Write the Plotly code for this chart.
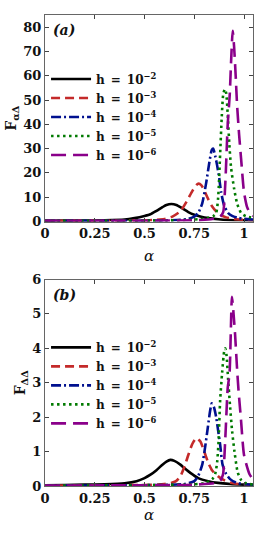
import plotly.graph_objects as go
from plotly.subplots import make_subplots

SP = "\u2002"
labels = [f"h{SP}={SP}10<sup>−2</sup>", f"h{SP}={SP}10<sup>−3</sup>", f"h{SP}={SP}10<sup>−4</sup>",
          f"h{SP}={SP}10<sup>−5</sup>", f"h{SP}={SP}10<sup>−6</sup>"]
colors = ["#000000", "#c42a2a", "#00108f", "#007a00", "#8a008a"]
dashes = ["solid", "9px,5px", "10px,3px,2px,3px", "2.5px,3.5px", "15px,7px"]

# ---- panel (a): F_{alpha Delta}
a_x1 = [0, 0.1, 0.2, 0.3, 0.4, 0.45, 0.5, 0.53, 0.56, 0.59, 0.61, 0.635, 0.66, 0.69, 0.72, 0.75, 0.78, 0.82, 0.87, 0.92, 0.97, 1.05]
a_y1 = [0.3, 0.35, 0.4, 0.5, 0.8, 1.4, 2.3, 3.0, 4.4, 5.9, 6.8, 7.2, 6.8, 5.4, 3.9, 2.8, 2.1, 1.4, 0.9, 0.6, 0.5, 0.4]
a_x2 = [0, 0.2, 0.4, 0.5, 0.55, 0.6, 0.64, 0.68, 0.71, 0.74, 0.76, 0.772, 0.785, 0.80, 0.82, 0.84, 0.86, 0.88, 0.91, 0.95, 1.0, 1.05]
a_y2 = [0.3, 0.3, 0.35, 0.45, 0.6, 1.0, 2.0, 4.2, 8.0, 12.5, 15.0, 15.6, 15.0, 12.8, 9.2, 6.2, 4.2, 2.8, 1.7, 1.0, 0.7, 0.5]
a_x3 = [0, 0.3, 0.5, 0.6, 0.68, 0.72, 0.75, 0.77, 0.79, 0.81, 0.825, 0.838, 0.845, 0.855, 0.865, 0.875, 0.885, 0.9, 0.92, 0.94, 0.97, 1.0, 1.05]
a_y3 = [0.3, 0.3, 0.35, 0.45, 0.7, 1.1, 2.0, 3.5, 7.5, 16, 24, 29.5, 30, 27, 23, 18, 12, 6.6, 3.5, 2.3, 1.5, 1.1, 0.8]
a_x4 = [0, 0.3, 0.6, 0.7, 0.78, 0.82, 0.845, 0.86, 0.87, 0.88, 0.888, 0.895, 0.903, 0.91, 0.918, 0.926, 0.935, 0.95, 0.965, 0.985, 1.01, 1.05]
a_y4 = [0.3, 0.3, 0.4, 0.6, 1.0, 1.5, 2.2, 3.5, 10, 28, 43, 52, 54.5, 53, 44, 32, 22, 13.6, 7.5, 3.5, 2.2, 1.5]
a_x5 = [0, 0.3, 0.6, 0.75, 0.82, 0.86, 0.88, 0.895, 0.906, 0.918, 0.928, 0.935, 0.943, 0.95, 0.958, 0.965, 0.975, 0.985, 1.0, 1.015, 1.03, 1.05]
a_y5 = [0.3, 0.3, 0.35, 0.5, 0.8, 1.3, 2.0, 3.8, 16, 40, 52, 66, 78.5, 72, 60, 48, 36, 26, 12, 6, 3.5, 2.2]

# ---- panel (b): F_{Delta Delta}
b_x1 = [0, 0.1, 0.2, 0.3, 0.4, 0.46, 0.5, 0.53, 0.56, 0.59, 0.61, 0.63, 0.65, 0.68, 0.70, 0.73, 0.77, 0.82, 0.87, 0.93, 1.0, 1.05]
b_y1 = [0.02, 0.03, 0.04, 0.05, 0.08, 0.14, 0.23, 0.33, 0.46, 0.62, 0.71, 0.76, 0.73, 0.62, 0.52, 0.38, 0.23, 0.14, 0.09, 0.06, 0.04, 0.03]
b_x2 = [0, 0.3, 0.5, 0.6, 0.64, 0.66, 0.68, 0.70, 0.72, 0.74, 0.76, 0.78, 0.80, 0.82, 0.84, 0.87, 0.9, 0.93, 0.97, 1.05]
b_y2 = [0.01, 0.02, 0.03, 0.06, 0.1, 0.15, 0.28, 0.55, 0.9, 1.22, 1.39, 1.3, 1.0, 0.68, 0.45, 0.28, 0.17, 0.1, 0.06, 0.03]
b_x3 = [0, 0.4, 0.6, 0.7, 0.75, 0.77, 0.79, 0.805, 0.818, 0.83, 0.838, 0.848, 0.86, 0.87, 0.88, 0.892, 0.91, 0.93, 0.96, 1.0, 1.05]
b_y3 = [0.01, 0.02, 0.03, 0.06, 0.14, 0.3, 0.62, 1.15, 1.7, 2.2, 2.4, 2.3, 2.0, 1.6, 1.2, 0.62, 0.35, 0.2, 0.1, 0.06, 0.03]
b_x4 = [0, 0.4, 0.7, 0.8, 0.84, 0.855, 0.865, 0.872, 0.88, 0.89, 0.9, 0.906, 0.912, 0.92, 0.93, 0.94, 0.952, 0.968, 0.985, 1.01, 1.05]
b_y4 = [0.01, 0.02, 0.04, 0.08, 0.2, 0.35, 0.7, 1.3, 2.5, 3.3, 3.9, 4.0, 3.8, 3.1, 2.3, 1.6, 1.0, 0.4, 0.18, 0.08, 0.04]
b_x5 = [0, 0.4, 0.7, 0.85, 0.88, 0.894, 0.906, 0.918, 0.927, 0.934, 0.939, 0.946, 0.955, 0.965, 0.972, 0.985, 1.0, 1.027, 1.05]
b_y5 = [0.01, 0.02, 0.03, 0.08, 0.15, 0.33, 1.4, 2.85, 3.25, 4.6, 5.5, 5.1, 4.4, 3.4, 2.8, 1.9, 0.9, 0.35, 0.15]

x_ticks = [0, 0.25, 0.5, 0.75, 1]
x_ticklabels = ["0", "0.25", "0.5", "0.75", "1"]
ya_ticks = [0, 10, 20, 30, 40, 50, 60, 70, 80]
yb_ticks = [0, 1, 2, 3, 4, 5, 6]

panel_a = [(a_x1, a_y1), (a_x2, a_y2), (a_x3, a_y3), (a_x4, a_y4), (a_x5, a_y5)]
panel_b = [(b_x1, b_y1), (b_x2, b_y2), (b_x3, b_y3), (b_x4, b_y4), (b_x5, b_y5)]

FONT = "DejaVu Serif"
TXT = "#111111"

fig = make_subplots(rows=2, cols=1, vertical_spacing=(279 - 221) / 471)

for i, (xs, ys) in enumerate(panel_a):
    fig.add_trace(go.Scatter(x=xs, y=ys, mode="lines", name=labels[i],
                             line=dict(color=colors[i], width=2.6, dash=dashes[i],
                                       shape="spline", smoothing=0.6),
                             legend="legend"), row=1, col=1)
for i, (xs, ys) in enumerate(panel_b):
    fig.add_trace(go.Scatter(x=xs, y=ys, mode="lines", name=labels[i],
                             line=dict(color=colors[i], width=2.6, dash=dashes[i],
                                       shape="spline", smoothing=0.6),
                             legend="legend2"), row=2, col=1)

tick_font = dict(family=FONT, size=13, color=TXT, weight="bold")
axis_common = dict(showline=True, linecolor="#666666", linewidth=1, mirror="ticks",
                   ticks="inside", ticklen=4, tickcolor="#444444", showgrid=False,
                   zeroline=False, tickfont=tick_font, automargin=False)

for r, so in ((1, 10), (2, 2)):
    fig.update_xaxes(range=[0, 1.045], tickvals=x_ticks, ticktext=x_ticklabels,
                     title=dict(text="<i>α</i>", font=dict(family=FONT, size=15, color=TXT),
                                standoff=so),
                     row=r, col=1, **axis_common)
fig.update_yaxes(range=[0, 85], tickvals=ya_ticks,
                 title=dict(text="F<sub>αΔ</sub>", font=dict(family=FONT, size=14, color=TXT, weight="bold"),
                            standoff=3),
                 row=1, col=1, **axis_common)
fig.update_yaxes(range=[0, 6], tickvals=yb_ticks,
                 title=dict(text="F<sub>ΔΔ</sub>", font=dict(family=FONT, size=14, color=TXT, weight="bold"),
                            standoff=3),
                 row=2, col=1, **axis_common)

legend_common = dict(bgcolor="rgba(0,0,0,0)", borderwidth=0,
                     font=dict(family=FONT, size=12, color=TXT, weight="bold"),
                     xanchor="left", yanchor="top", itemwidth=40,
                     tracegroupgap=0)
fig.update_layout(
    width=269, height=538,
    margin=dict(l=45, r=16, t=15, b=52, autoexpand=False),
    paper_bgcolor="white", plot_bgcolor="white",
    font=dict(family=FONT, color=TXT),
    legend=dict(x=0.005, y=0.895, **legend_common),
    legend2=dict(x=0.005, y=0.325, **legend_common),
    showlegend=True,
)

fig.add_annotation(text="<i>(a)</i>", x=0.03, y=0.975, xref="x domain", yref="y domain",
                   xanchor="left", yanchor="top", showarrow=False,
                   font=dict(family=FONT, size=14, color=TXT, weight="bold"))
fig.add_annotation(text="<i>(b)</i>", x=0.03, y=0.975, xref="x2 domain", yref="y2 domain",
                   xanchor="left", yanchor="top", showarrow=False,
                   font=dict(family=FONT, size=14, color=TXT, weight="bold"))

fig.write_html("out.html", config={"displayModeBar": False},
               post_script="document.body.style.margin='0';")
